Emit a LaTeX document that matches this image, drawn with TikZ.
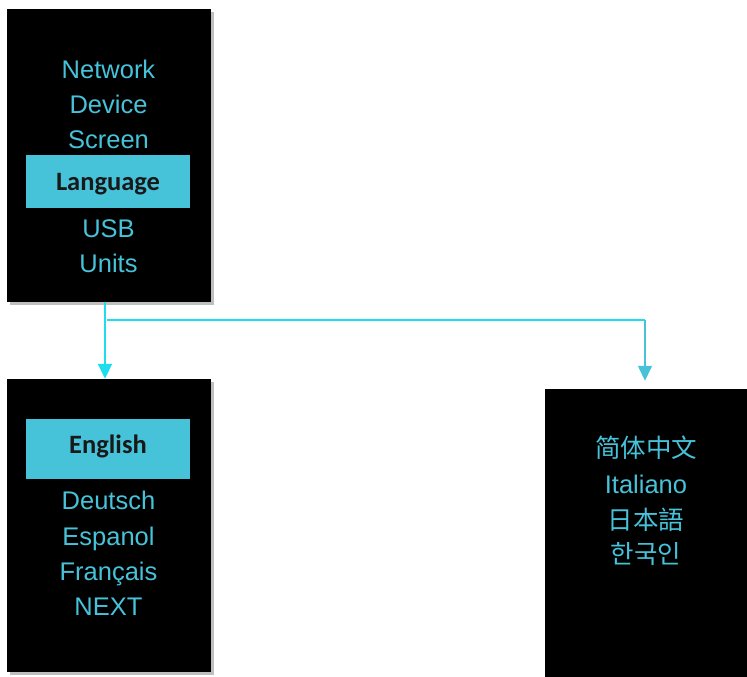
\documentclass[tikz,border=0pt]{standalone}
\usepackage{fontspec}
\setmainfont{Liberation Sans}
\newfontfamily\barfont{Carlito}
\newfontfamily\cjk{Noto Sans CJK SC}
\usetikzlibrary{arrows.meta,shadows}
\definecolor{menutext}{HTML}{46C2D9}
\definecolor{linkcyan}{HTML}{1EDDEC}
\definecolor{linkblue}{HTML}{46C2D9}
\begin{document}
\begin{tikzpicture}[x=1pt,y=-1pt,
  screen/.style={fill=black, draw=none, inner sep=0pt,
    drop shadow={shadow xshift=3pt, shadow yshift=-3pt, fill=black!25, opacity=1}},
  flatscreen/.style={fill=black, draw=none, inner sep=0pt},
  item/.style={text=menutext, anchor=base, inner sep=0pt,
    font=\fontsize{25.5}{30}\selectfont},
  cjkitem/.style={item, font=\cjk\fontsize{25.5}{30}\selectfont},
  bar/.style={fill=menutext, draw=none, inner sep=0pt,
    minimum width=164pt},
  bartext/.style={text=black!90, anchor=base, inner sep=0pt,
    font=\barfont\bfseries\fontsize{26.5}{30}\selectfont},
  link/.style={draw=linkcyan, line width=1.8pt},
  linkthin/.style={draw=linkblue, line width=1.4pt},
  tip/.style={-{Triangle[width=14pt,length=15pt]}}
]
\useasboundingbox (0,0) rectangle (747,677);

% settings menu
\node[screen, minimum width=204pt, minimum height=293pt] (menu) at (109,155.5) {};
\node[bar, minimum height=53pt] (langbar) at (108,181.5) {};
\node[item] (network) at (108.5,78) {Network};
\node[item] (device) at (108.5,113) {Device};
\node[item] (screenitem) at (108.5,148) {Screen};
\node[bartext] (lang) at (108,190) {Language};
\node[item] (usb) at (108.5,237) {USB};
\node[item] (units) at (108.5,272) {Units};

% language list, first page
\node[screen, minimum width=204pt, minimum height=293pt] (langs) at (109,525.5) {};
\node[bar, minimum height=60pt] (engbar) at (108,449) {};
\node[bartext] (english) at (108,453.5) {English};
\node[item] (deutsch) at (108.5,509) {Deutsch};
\node[item] (espanol) at (108.5,545) {Espanol};
\node[item] (francais) at (108.5,580) {Français};
\node[item] (next) at (108.5,615) {NEXT};

% language list, second page
\node[flatscreen, minimum width=202pt, minimum height=288pt] (more) at (646,533) {};
\node[cjkitem] (zh) at (646,457) {简体中文};
\node[item] (it) at (646,493) {Italiano};
\node[cjkitem] (ja) at (646,529) {日本語};
\node[cjkitem] (ko) at (646,563) {한국인};

% connectors
\coordinate (split) at (107,320);
\coordinate (drop) at (645,320);
\draw[link, tip] ([xshift=-4pt]menu.south) -- ([xshift=-4pt]langs.north);
\draw[link] (split) -- (drop);
\draw[linkthin, tip, shorten >=8pt] (drop) -- (drop |- more.north);
\end{tikzpicture}
\end{document}
